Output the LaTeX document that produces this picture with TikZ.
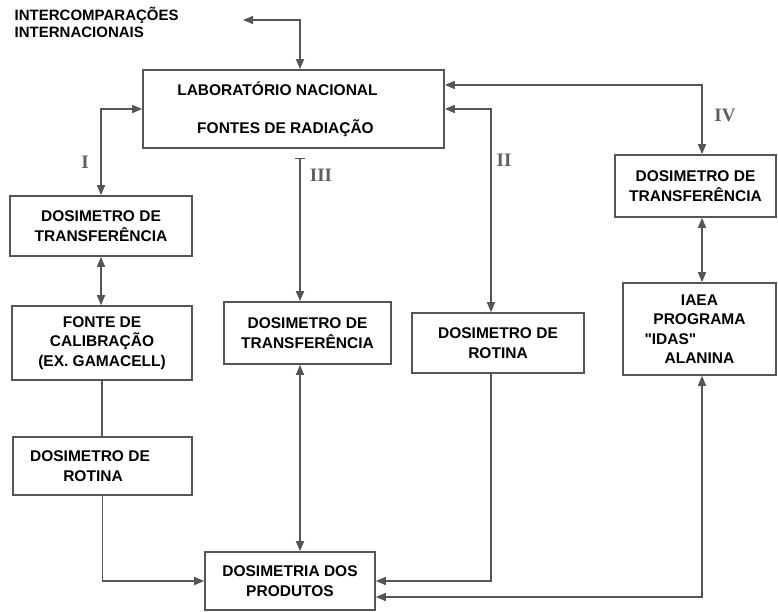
\documentclass[tikz,border=0pt]{standalone}
\usepackage{fontspec}
\setmainfont{Liberation Sans}
\newfontfamily\numfont{Liberation Serif}
\font\quotefont="Liberation Sans/B" at 15.5pt
\usepackage{tikz}
\usetikzlibrary{arrows.meta}
\usetikzlibrary{calc}
\usetikzlibrary{positioning}
\definecolor{linegray}{RGB}{85,85,85}
\definecolor{numgray}{RGB}{95,95,95}

\begin{document}
\begin{tikzpicture}
		[x=1pt, y=-1pt,
		line width=1.4pt, draw=linegray,
		> = {Triangle[length=10pt,width=8pt]},
		box/.style = {draw=linegray, line width=1.6pt, fill=white, align=center, inner sep=2pt,
			font=\fontsize{15.5}{19.5}\selectfont\bfseries},
		num/.style = {text=numgray, inner sep=0pt, font=\numfont\bfseries\fontsize{19}{19}\selectfont}
		]
		\useasboundingbox (0,0) rectangle (778,612);

		% caixas
		\node[box, minimum width=301pt, minimum height=78pt] (lab) at (293.5,109) {LABORATÓRIO NACIONAL\hspace*{32pt}\\[19pt]FONTES DE RADIAÇÃO\hspace*{16pt}};
		\node[anchor=north west, inner sep=0pt, align=left, font=\fontsize{15}{17}\selectfont\bfseries] (intl) at (14,6) {INTERCOMPARAÇÕES\\INTERNACIONAIS};
		\coordinate (intlend) at (243,20);

		\node[box, minimum width=182pt, minimum height=60pt] (dt1) at (101,226) {DOSIMETRO DE\\TRANSFERÊNCIA};
		\node[box, minimum width=180pt, minimum height=74pt] (fc) at (102,343) {FONTE DE\\CALIBRAÇÃO\\(EX. GAMACELL)};
		\node[box, minimum width=179pt, minimum height=58pt] (dr1) at (102.5,466) {DOSIMETRO DE\hspace*{25pt}\\ROTINA\hspace*{19pt}};
		\node[box, minimum width=170pt, minimum height=58pt] (dp) at (290,581) {DOSIMETRIA DOS\\PRODUTOS};
		\node[box, minimum width=167pt, minimum height=62pt] (dt2) at (307.5,333) {DOSIMETRO DE\\TRANSFERÊNCIA};
		\node[box, minimum width=172pt, minimum height=60pt] (dr2) at (498,343) {DOSIMETRO DE\\ROTINA};
		\node[box, minimum width=161pt, minimum height=62pt] (dt3) at (695.5,186) {DOSIMETRO DE\\TRANSFERÊNCIA};
		\node[box, minimum width=153pt, minimum height=92pt] (iaea) at (699.5,329) {IAEA\\PROGRAMA\\\makebox[110pt][l]{\quotefont "IDAS"}\\ALANINA};

		% ligacoes
		\draw[<->] (intlend) -| ([xshift=6.5pt]lab.north);
		\draw[<->] (lab.west) -| (dt1.north);
		\draw[<->] (dt1.south) -- (dt1.south |- fc.north);
		\draw (fc.south) -- (fc.south |- dr1.north);
		\draw[->] (dr1.south) |- (dp.west);

		\coordinate (colIII) at (300,158);
		\draw[{Bar[width=10pt]}->] (colIII) -- (colIII |- dt2.north);
		\draw[<->] (colIII |- dt2.south) -- (colIII |- dp.north);

		\coordinate (colII) at (491,0);
		\draw[<->] (lab.east) -| (colII |- dr2.north);
		\draw[->] (colII |- dr2.south) |- (dp.east);

		\coordinate (colIV) at (702,0);
		\draw[<->] ([yshift=24pt]lab.east) -| (colIV |- dt3.north);
		\draw[<->] (colIV |- dt3.south) -- (colIV |- iaea.north);
		\draw[<->] (colIV |- iaea.south) |- ([yshift=-16pt]dp.east);

		% rotulos
		\node[num] (numI) at (85,162) {I};
		\node[num] (numII) at (504,160) {II};
		\node[num] (numIII) at (321,175) {III};
		\node[num] (numIV) at (725,115) {IV};
	\end{tikzpicture}
\end{document}
